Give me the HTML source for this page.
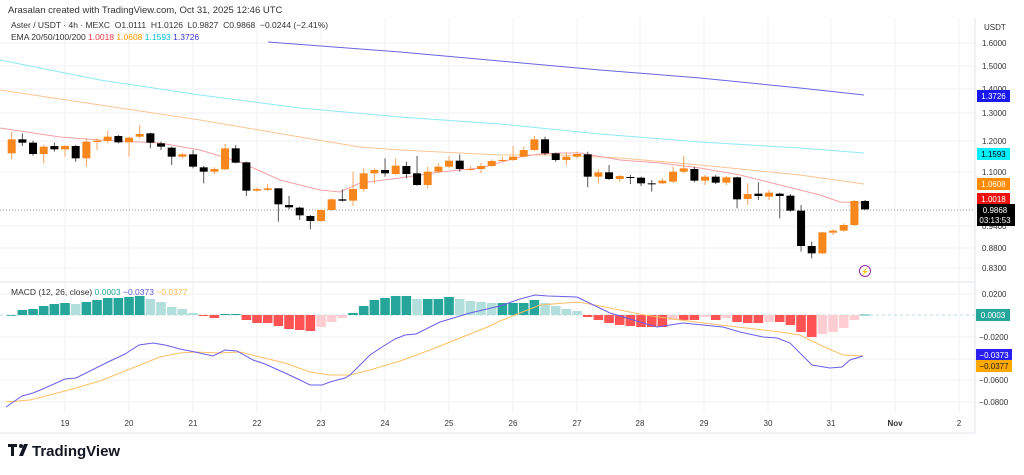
<!DOCTYPE html>
<html><head><meta charset="utf-8"><style>
body{margin:0;background:#fff;width:1024px;height:470px;overflow:hidden;font-family:"Liberation Sans",sans-serif}
svg text{font-family:"Liberation Sans",sans-serif}
</style></head><body>
<svg id="s" width="1024" height="470" xmlns="http://www.w3.org/2000/svg">
<rect width="1024" height="470" fill="#fff"/>
<g id="grid"></g>
<text x="8" y="13" font-size="9.5" fill="#333">Arasalan created with TradingView.com, Oct 31, 2025 12:46 UTC</text>
<text x="11" y="28" font-size="8.5" fill="#333">Aster / USDT · 4h · MEXC&#160; O1.0111&#160; H1.0126&#160; L0.9827&#160; C0.9868&#160; −0.0244 (−2.41%)</text>
<text x="11" y="40" font-size="8.5" fill="#333">EMA 20/50/100/200 <tspan fill="#f23645">1.0018</tspan> <tspan fill="#ff9800">1.0608</tspan> <tspan fill="#00bcd4">1.1593</tspan> <tspan fill="#3a34c8">1.3726</tspan></text>
<text x="11" y="295" font-size="8.5" fill="#333">MACD (12, 26, close) <tspan fill="#26a69a">0.0003</tspan> <tspan fill="#5b5bd6">−0.0373</tspan> <tspan fill="#ffb74d">−0.0377</tspan></text>
<g id="ema"></g>
<line x1="0" y1="210" x2="975" y2="210" stroke="#999" stroke-dasharray="1,2" stroke-width="1"/>
<g id="c"></g>
<g id="m"></g>
<circle cx="865" cy="271" r="5.5" fill="none" stroke="#9c27b0" stroke-width="1"/>
<text x="865" y="274" font-size="7" fill="#9c27b0" text-anchor="middle">⚡</text>
<g id="ax" font-size="8" fill="#333"></g>
<g font-size="8" font-family="Liberation Sans">
<rect x="977" y="90" width="33" height="12" fill="#1a1af0"/><text x="993.5" y="99" fill="#fff" text-anchor="middle">1.3726</text>
<rect x="977" y="148" width="33" height="12" fill="#00f0ff"/><text x="993.5" y="157" fill="#000" text-anchor="middle">1.1593</text>
<rect x="977" y="178" width="33" height="12" fill="#ff8c00"/><text x="993.5" y="187" fill="#fff" text-anchor="middle">1.0608</text>
<rect x="977" y="193" width="33" height="12" fill="#f01010"/><text x="993.5" y="202" fill="#fff" text-anchor="middle">1.0018</text>
<rect x="977" y="204" width="38" height="22" fill="#000"/><text x="995" y="213" fill="#fff" text-anchor="middle">0.9868</text><text x="995" y="223" fill="#fff" text-anchor="middle">03:13:53</text>
<rect x="976" y="309" width="34" height="12" fill="#26a69a"/><text x="993" y="318" fill="#fff" text-anchor="middle">0.0003</text>
<rect x="976" y="349" width="36" height="12" fill="#2a1ff0"/><text x="994" y="358" fill="#fff" text-anchor="middle">−0.0373</text>
<rect x="976" y="360" width="36" height="12" fill="#ffa800"/><text x="994" y="369" fill="#222" text-anchor="middle">−0.0377</text>
</g>
<g transform="translate(8,444)"><rect x="0" y="0" width="9" height="3" fill="#131722"/><rect x="3" y="0" width="3" height="12" fill="#131722"/><circle cx="13" cy="2" r="2" fill="#131722"/><polygon points="16,0 20,0 15,12 11,12" fill="#131722"/></g>
<text x="32" y="456" font-size="15" font-weight="bold" fill="#131722">TradingView</text>
</svg>
<script>
const NS="http://www.w3.org/2000/svg";
function el(p,t,a){const e=document.createElementNS(NS,t);for(const k in a)e.setAttribute(k,a[k]);document.getElementById(p).appendChild(e);return e;}
// grid
const days=[[65,"19"],[129,"20"],[193,"21"],[257,"22"],[321,"23"],[385,"24"],[449,"25"],[513,"26"],[577,"27"],[640,"28"],[704,"29"],[768,"30"],[831,"31"],[895,"Nov"],[959,"2"]];
days.forEach(d=>{el("grid","line",{x1:d[0],y1:18,x2:d[0],y2:412,stroke:"#f2f2f4"});const t=el("ax","text",{x:d[0],y:426,"text-anchor":"middle","font-weight":d[1]=="Nov"?"bold":"normal"});t.textContent=d[1];});
const py=[[1.6,43],[1.5,66],[1.4,89],[1.3,113],[1.2,141],[1.1,172],[0.94,226],[0.88,248],[0.83,268]];
py.forEach(p=>{el("grid","line",{x1:0,y1:p[1],x2:975,y2:p[1],stroke:"#f2f2f4"});const t=el("ax","text",{x:982,y:p[1]+3});t.textContent=p[0].toFixed(4);});
const my=[[0.02,294],[-0.02,337],[-0.06,380],[-0.08,402]];
[294,337,359,380,402].forEach(y=>el("grid","line",{x1:0,y1:y,x2:975,y2:y,stroke:"#f2f2f4"}));
my.forEach(p=>{const t=el("ax","text",{x:p[0]<0?979:982,y:p[1]+3});t.textContent=(p[0]<0?"−":"")+Math.abs(p[0]).toFixed(4);});
{const t=el("ax","text",{x:984,y:30});t.textContent="USDT";}
el("grid","line",{x1:0,y1:282,x2:975,y2:282,stroke:"#e0e3eb"});
el("grid","line",{x1:0,y1:433,x2:975,y2:433,stroke:"#e0e3eb"});
el("grid","line",{x1:975,y1:18,x2:975,y2:433,stroke:"#e0e3eb"});
el("grid","line",{x1:0,y1:315,x2:975,y2:315,stroke:"#b2dfdb","stroke-dasharray":"3,3"});
function pl(pts,c,w){el("ema","polyline",{points:pts.map(p=>p.join(",")).join(" "),fill:"none",stroke:c,"stroke-width":w||1});}
pl([[268,42],[400,52],[500,61],[600,70],[700,78],[800,88],[864,95]],"#6c63e0");
pl([[0,60],[100,80],[200,95],[300,108],[400,117],[500,124],[600,134],[700,142],[800,148],[864,153]],"#8eeaf5");
pl([[0,90],[100,105],[200,120],[300,137],[360,147],[400,150],[500,155],[560,155],[620,158],[700,165],[800,175],[864,184]],"#fbc594");
pl([[0,128],[60,137],[100,140],[160,143],[200,150],[240,162],[280,180],[320,190],[340,192],[360,183],[400,178],[440,172],[480,168],[520,157],[540,154],[560,153],[580,153],[620,160],[660,163],[700,168],[740,175],[780,185],[820,195],[840,202],[864,203]],"#f4a0a6");
// candles: [up?, top, bottom, whiskTop, whiskBot] zoom coords
const A=[[1,88,130,65,148],[0,88,98,70,108],[0,98,132,92,137],[1,110,132,105,160],[0,108,118,98,125],[1,108,118,105,140],[0,108,145,105,155],[1,95,145,85,170],[1,92,96,85,120],[1,80,93,62,100],[0,78,97,75,100],[1,83,97,80,140],[1,72,80,45,85],[0,70,98,68,115],[0,100,110,95,120],[0,113,140,110,165],[1,133,140,128,145],[0,133,170,120,175],[0,172,185,168,220],[1,177,185,172,192],[1,115,178,102,180],[0,115,158,105,160],[0,157,242,155,258],[1,237,242,232,245],[1,235,240,222,243],[0,235,283,235,335],[0,285,292,258,298],[0,293,316,290,330],[0,318,333,315,358],[1,300,333,298,336],[1,268,300,265,302],[0,268,272,238,275],[1,237,272,185,288]];
const B=[[1,160,207,145,215],[1,150,160,145,190],[0,150,160,115,170],[1,137,162,115,165],[0,138,162,125,175],[0,160,195,108,197],[1,155,195,140,205],[1,140,155,130,160],[1,122,140,108,145],[0,122,147,103,155],[1,147,149,138,152],[1,138,147,128,160],[1,123,138,118,140],[1,120,122,110,125],[1,110,120,78,123],[1,90,110,80,112],[1,58,90,48,92],[0,58,100,50,105],[0,100,120,98,125],[1,110,120,100,135],[1,102,110,95,115],[0,103,170,95,202],[1,157,170,148,190],[0,157,177,135,180],[1,168,177,165,185],[0,171,174,165,192],[0,173,190,170,198],[0,190,193,180,215],[1,182,190,175,192],[1,155,185,140,188],[1,145,155,108,160],[0,147,182,140,187],[1,170,182,165,195],[0,170,188,165,192],[1,172,188,168,195],[0,172,238,170,265],[1,222,237,190,255],[0,221,228,187,240],[1,218,230,210,240],[0,221,228,218,295],[0,227,272,222,275],[0,272,378,255,395],[0,378,400,365,415],[1,337,400,335,403],[1,332,338,328,345],[1,315,332,310,335],[1,243,315,240,318],[0,243,268,240,270]];
const C=A.map(a=>[a[0],...a.slice(1).map(v=>110+v/3)]).concat(B.map(a=>[a[0],...a.slice(1).map(v=>120+v/3)]));
C.forEach((c,i)=>{const x=11.7+10.667*i;const col=c[0]?"#f7861c":"#000";
el("c","line",{x1:x,y1:c[3],x2:x,y2:c[4],stroke:c[0]?"#f7a35c":"#555","stroke-width":1});
el("c","rect",{x:x-4,y:c[1],width:8,height:Math.max(1,c[2]-c[1]),fill:col});});
// histogram
const H=[0,5,6,9,11,12,11,13,15,17,17,18,19,16,13,8,6,2,-1,-3,1,1,-5,-8,-8,-11,-14,-15,-16,-12,-7,-3,2,9,15,17,19,19,16,16,16,18,16,14,13,12,12,12,12,15,12,9,6,4,-2,-5,-8,-10,-11,-12,-12,-12,-5,-5,-5,-2,-5,-3,-7,-8,-8,-7,-7,-10,-17,-22,-19,-17,-13,-5,0.4];
H.forEach((h,i)=>{const x=11.7+10.667*i;const p=i?H[i-1]:0;let col;
if(h>=0)col=h>=p?"#26a69a":"#b2dfdb";else col=h<=p?"#ff5252":"#ffcdd2";
el("m","rect",{x:x-4.8,y:h>=0?315-h:315,width:9.6,height:Math.max(0.8,Math.abs(h)),fill:col});});
function ml(pts,c){el("m","polyline",{points:pts.map(p=>p.join(",")).join(" "),fill:"none",stroke:c,"stroke-width":1});}
ml([[6,402],[30,400],[65,391],[100,381],[130,369],[160,357],[180,353],[195,352],[220,353],[240,352],[260,357],[285,363],[310,372],[330,375],[350,375],[370,370],[400,361],[430,350],[460,338],[490,326],[500,321],[540,305],[578,302],[600,306],[645,315],[680,320],[720,325],[780,332],[800,335],[820,345],[843,355],[863,356]],"#ffc066");
ml([[6,407],[22,396],[33,393],[45,388],[65,379],[76,378],[100,366],[108,362],[125,354],[139,345],[153,343],[165,345],[180,349],[195,352],[213,356],[225,350],[237,351],[253,360],[265,364],[285,373],[300,380],[310,385],[322,385],[330,382],[345,378],[350,375],[370,355],[382,347],[395,339],[405,335],[416,334],[440,322],[450,319],[470,313],[500,306],[520,299],[535,295],[548,296],[577,297],[610,313],[640,322],[657,327],[683,323],[723,327],[740,332],[763,337],[777,338],[790,343],[812,365],[830,368],[842,367],[850,360],[863,356]],"#6a5ee8");
</script>
</body></html>
